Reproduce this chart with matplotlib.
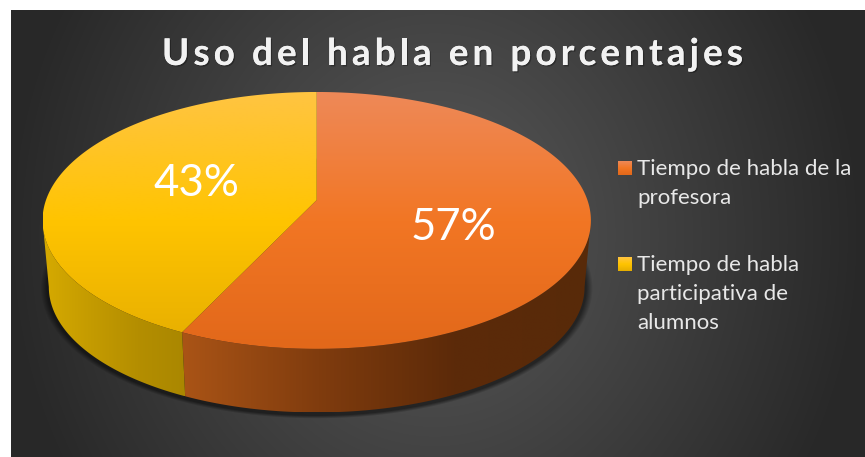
import numpy as np
import matplotlib
matplotlib.use("Agg")
import matplotlib.pyplot as plt
import matplotlib.patheffects as pe
from matplotlib.font_manager import FontProperties
from matplotlib.patches import Polygon
from matplotlib.textpath import text_to_path

titulo = "Uso del habla en porcentajes"
categorias = ["Tiempo de habla de la\nprofesora", "Tiempo de habla\nparticipativa de\nalumnos"]
valores = [57, 43]
etiquetas = ["57%", "43%"]

# colores de arriba a abajo en la cara superior, y de izq. a der. en la pared
cara = [[(238, 137, 88), (242, 118, 36), (226, 104, 26)],
        [(255, 196, 66), (255, 196, 0), (230, 174, 0)]]
pared = [[(170, 84, 22), (128, 60, 14), (92, 42, 9), (88, 42, 10)],
         [(214, 170, 0), (196, 155, 0), (180, 142, 0), (170, 135, 0)]]

W, H = 865, 457
fig = plt.figure(figsize=(W / 100, H / 100), dpi=100, facecolor="white")
ax = fig.add_axes([0, 0, 1, 1])
ax.axis("off")

# perspectiva del disco
cx, cy, a, b, k = 316.7, 200, 270.7, 125.2, 0.159
cy2, esc = 267, 0.977

def borde(theta, y0=cy, s=1.0):
    u, v = np.sin(theta), np.cos(theta)
    w = 1 + k * v
    return cx + s * a * u / w, y0 - s * b * v / w

def gradiente(colores, extent, clip, vertical=True):
    c = np.array(colores, dtype=float) / 255
    t = np.linspace(0, 1, 256)
    p = np.linspace(0, 1, len(c))
    g = np.stack([np.interp(t, p, c[:, i]) for i in range(3)], axis=1)
    img = g[:, None, :] if vertical else g[None, :, :]
    im = ax.imshow(img, extent=extent, aspect="auto", interpolation="bilinear", zorder=2)
    parche = Polygon(clip, closed=True, transform=ax.transData, fc="none", ec="none")
    ax.add_patch(parche)
    im.set_clip_path(parche)

# fondo con degradado radial y sombra bajo el disco
xx, yy = np.meshgrid(np.arange(11, W) + .5, np.arange(10, H) + .5)
rho = np.hypot((xx - 435) / 430, (yy - 235) / 480)
gris = 90 - 50 * np.clip(rho, 0, 1)
r2 = np.hypot((xx - cx) / 269.5, (yy - 288) / 127.5)
gris = gris * (1 - 0.5 * np.clip((1.025 - r2) / 0.025, 0, 1))
fondo = np.repeat(gris[:, :, None], 3, axis=2) / 255
ax.imshow(fondo, extent=(11, W, H, 10), aspect="auto", zorder=1)

# porciones: en el sentido del reloj desde las 12
cortes = 2 * np.pi * np.cumsum([0] + valores) / sum(valores)
frente = (np.arccos(-k), 2 * np.pi - np.arccos(-k))
for i in range(len(valores)):
    ini, fin = cortes[i], cortes[i + 1]
    t = np.linspace(max(ini, frente[0]), min(fin, frente[1]), 160)
    x1, y1 = borde(t)
    x2, y2 = borde(t, cy2, esc)
    pts = np.r_[np.c_[x1, y1], np.c_[x2, y2][::-1]]
    izq, der = pts[:, 0].min(), pts[:, 0].max()
    gradiente(pared[i], (izq, der, pts[:, 1].max(), pts[:, 1].min()), pts, vertical=False)

for i in range(len(valores)):
    t = np.linspace(cortes[i], cortes[i + 1], 240)
    x1, y1 = borde(t)
    pts = np.r_[[[cx, cy]], np.c_[x1, y1]]
    gradiente(cara[i], (43, 591, 349, 92), pts)

# etiquetas de datos
pos_etq = [(453, 227), (196, 184)]
for e, (x, y) in zip(etiquetas, pos_etq):
    ax.text(x, y, e, color="white", fontsize=31.5, family="Lato", ha="center", va="center", zorder=5)

# titulo con espaciado entre letras
fp = FontProperties(family="Lato", weight="bold", size=26.5)
def ancho(s):
    return text_to_path.get_text_width_height_descent(s, fp, False)[0] * 100 / 72
x0, x1 = 162, 743
paso = (x1 - x0 - ancho(titulo)) / (len(titulo) - 1)
for n, c in enumerate(titulo):
    if c == " ":
        continue
    ax.text(x0 + ancho(titulo[:n]) + n * paso, 65, c, color="#f2f2f2", fontproperties=fp,
            ha="left", va="baseline", zorder=5,
            path_effects=[pe.withSimplePatchShadow(offset=(1, -1), shadow_rgbFace="black", alpha=0.3), pe.Normal()])

# leyenda
pos_ley = [(161, 175), (257, 271)]
for i, (top, y) in enumerate(pos_ley):
    cuad = [(618, top), (632, top), (632, top + 14), (618, top + 14)]
    gradiente(cara[i], (618, 632, top + 14, top), cuad)
    for j, linea in enumerate(categorias[i].split("\n")):
        ax.text(637, y + j * 29, linea, color="#e8e8e8", fontsize=16, family="Lato",
                ha="left", va="baseline", zorder=5)

ax.set_xlim(0, W)
ax.set_ylim(H, 0)
fig.savefig("out.png", dpi=100, facecolor="white")
